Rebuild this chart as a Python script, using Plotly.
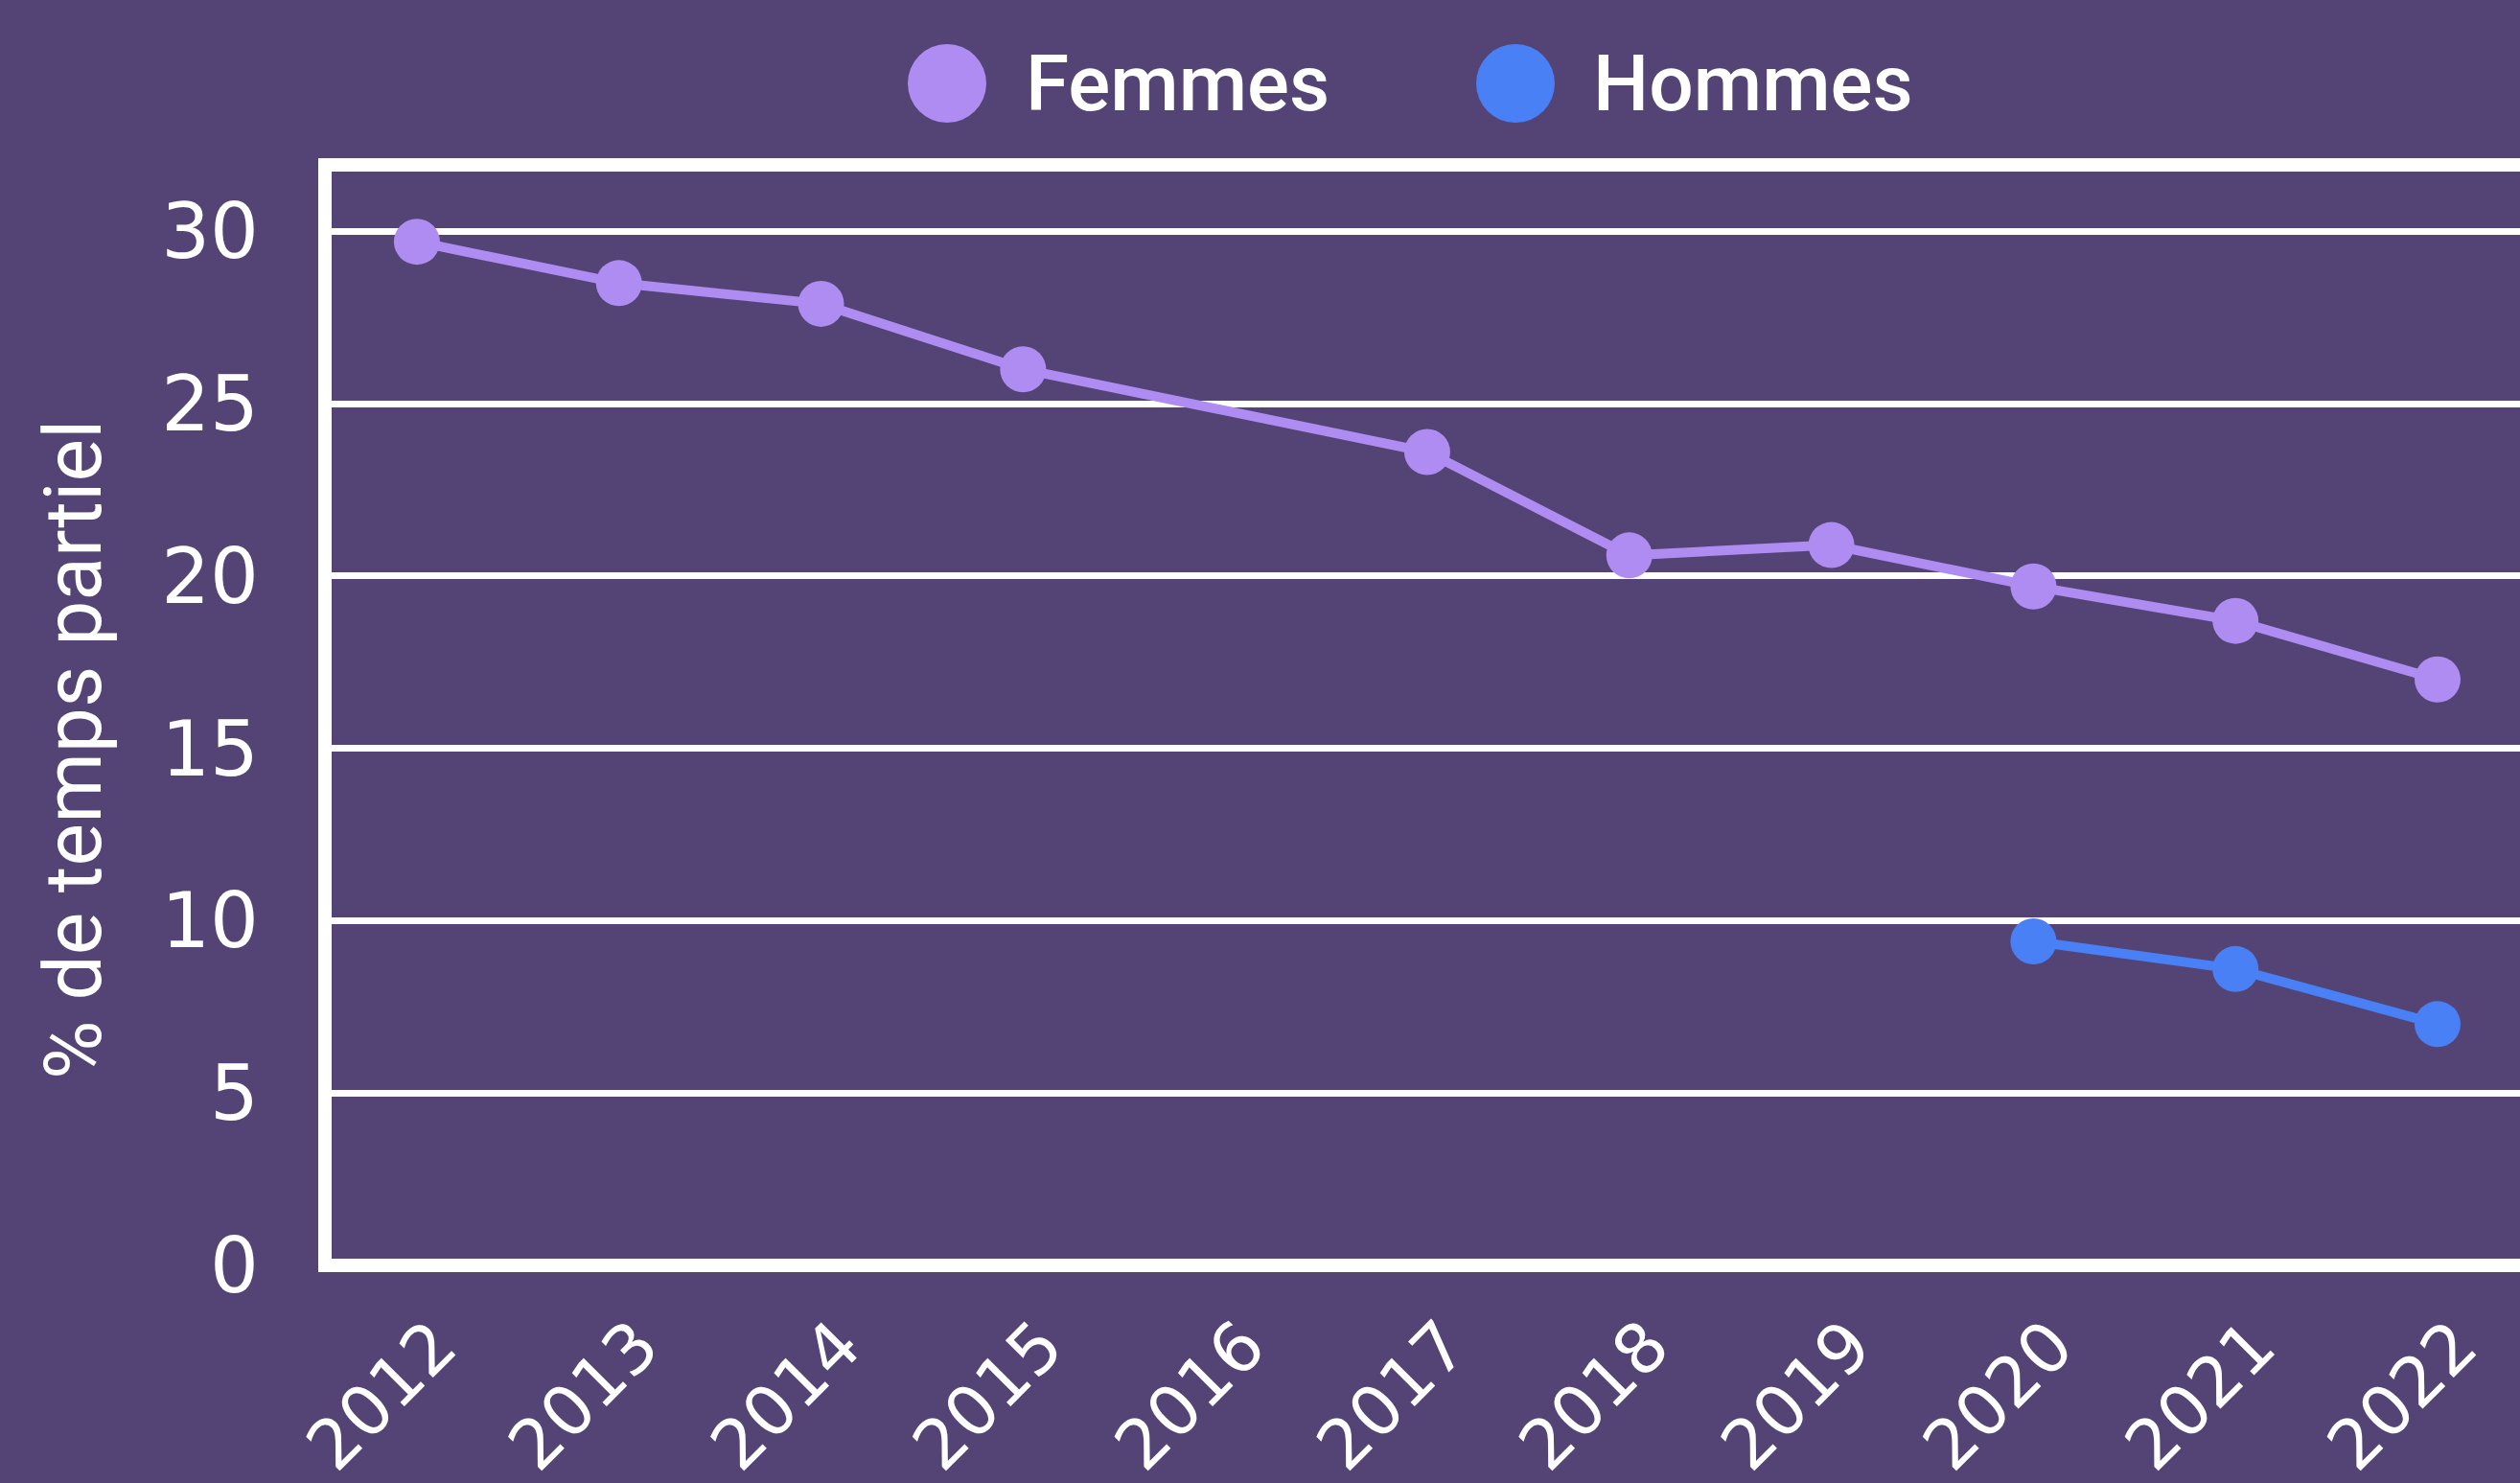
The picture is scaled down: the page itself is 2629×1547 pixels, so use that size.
import plotly.graph_objects as go

years = [2012, 2013, 2014, 2015, 2016, 2017, 2018, 2019, 2020, 2021, 2022]
femmes = [29.7, 28.5, 27.9, 26.0, None, 23.6, 20.6, 20.9, 19.7, 18.7, 17.0]
hommes = [None, None, None, None, None, None, None, None, 9.4, 8.6, 7.0]
y_ticks = [0, 5, 10, 15, 20, 25, 30]
series_names = ["Femmes", "Hommes"]
y_title = "% de temps partiel"

BG = "#534475"
C_F = "#AE8CF2"
C_H = "#4A80F5"
W, H = 2629, 1547
L, R, T, B = 339, 0, 172, 227
PW = W - L - R
PH = H - T - B

fig = go.Figure()
for name, vals, col in [(series_names[0], femmes, C_F), (series_names[1], hommes, C_H)]:
    fig.add_trace(go.Scatter(
        x=years, y=vals, name=name, mode="lines+markers",
        connectgaps=True,
        line=dict(color=col, width=10),
        marker=dict(color=col, size=48),
        showlegend=False,
    ))

def px_x(px):
    return (px - L) / PW

def px_y(py):
    return (H - B - py) / PH

shapes = [
    dict(type="rect", xref="paper", yref="paper", x0=0, x1=1.02, y0=0, y1=1,
         line=dict(color="white", width=14), fillcolor="rgba(0,0,0,0)", layer="above"),
]
annotations = [
    dict(text=y_title, textangle=-90, xref="paper", yref="paper",
         x=px_x(76), y=px_y(782), xanchor="center", yanchor="middle", showarrow=False,
         font=dict(family="Roboto", size=84, color="white")),
]
legend_items = [(series_names[0], C_F, 988, 1068), (series_names[1], C_H, 1581, 1660)]
for name, col, cx, tx in legend_items:
    shapes.append(dict(type="circle", xref="paper", yref="paper",
                       xsizemode="pixel", ysizemode="pixel",
                       xanchor=px_x(cx), yanchor=px_y(87),
                       x0=-41, x1=41, y0=-41, y1=41,
                       fillcolor=col, line=dict(width=0), layer="above"))
    annotations.append(dict(text=name, xref="paper", yref="paper",
                            x=px_x(tx), y=px_y(87), xanchor="left", yanchor="middle",
                            showarrow=False,
                            font=dict(family="Roboto", size=82, color="white", weight=500)))

fig.update_layout(
    width=W, height=H,
    margin=dict(l=L, r=R, t=T, b=B, pad=0, autoexpand=False),
    paper_bgcolor=BG, plot_bgcolor=BG,
    shapes=shapes, annotations=annotations,
    showlegend=False,
    font=dict(family="DejaVu Sans", color="white"),
)
fig.update_xaxes(
    range=[2011.545, 2022.408], tickvals=years, ticktext=[str(y) for y in years],
    tickangle=-45, showgrid=False, zeroline=False, showline=False, ticks="",
    tickfont=dict(family="DejaVu Sans", size=72, color="white"),
    ticklabelstandoff=26, ticklabelshift=20, automargin=False,
)
fig.update_yaxes(
    range=[0, 31.93], tickvals=y_ticks, showgrid=True, gridcolor="white", gridwidth=7,
    zeroline=False, showline=False, ticks="",
    tickfont=dict(family="DejaVu Sans", size=80, color="white"),
    ticklabelstandoff=68, automargin=False,
)

fig.write_html(
    "out.html",
    config={"displayModeBar": False},
    post_script="document.body.style.margin='0';document.body.style.background='" + BG + "';document.body.style.overflow='hidden';",
)
